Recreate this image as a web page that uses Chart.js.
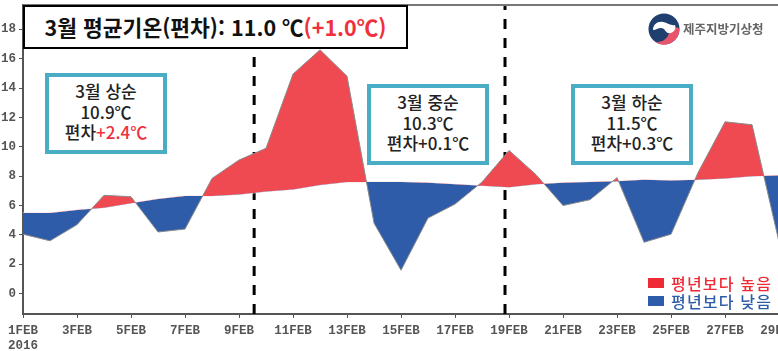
<!DOCTYPE html>
<html lang="ko">
<head>
  <meta charset="UTF-8" />
  <title>3월 평균기온</title>
  <script src="https://cdn.jsdelivr.net/npm/chart.js"></script>
  <style>
    html, body {
      margin: 0;
      padding: 0;
      background: #ffffff;
      overflow: hidden;
    }

    #wrap {
      position: relative;
      width: 778px;
      height: 351px;
      font-family: "Noto Sans CJK KR", sans-serif;
      color: #222222;
      filter: blur(0.4px);
    }

    #chart {
      position: absolute;
      left: 0;
      top: 0;
    }

    .topline {
      position: absolute;
      left: 23px;
      top: 4px;
      width: 755px;
      height: 2px;
      background: #777777;
    }

    .title {
      position: absolute;
      left: 23px;
      top: 5px;
      width: 381px;
      height: 40px;
      border: 2.5px solid #000000;
      background: #ffffff;
      font-size: 21.5px;
      font-weight: 700;
      line-height: 40px;
      text-align: center;
      color: #111111;
      white-space: nowrap;
    }

    .red { color: #f0303c; }

    .note {
      position: absolute;
      box-sizing: border-box;
      width: 122px;
      height: 81px;
      border: 4px solid #4bacc6;
      background: #ffffff;
      font-size: 17px;
      font-weight: 500;
      line-height: 20.5px;
      text-align: center;
      padding-top: 4px;
      white-space: nowrap;
    }

    .logo {
      position: absolute;
      left: 648px;
      top: 13px;
    }

    .org {
      position: absolute;
      left: 683px;
      top: 20px;
      font-size: 12.5px;
      font-weight: 700;
      line-height: 18px;
      color: #666666;
      white-space: nowrap;
    }

    .key {
      position: absolute;
      left: 648px;
      width: 16px;
      height: 10px;
    }

    .keytext {
      position: absolute;
      left: 671px;
      font-size: 16px;
      font-weight: 500;
      line-height: 18px;
      letter-spacing: 1.2px;
      white-space: nowrap;
    }
  </style>
</head>
<body>
  <div id="wrap">
    <canvas id="chart" width="778" height="351"></canvas>
    <div class="topline"></div>
    <div class="title">3월 평균기온(편차): 11.0 ℃<span class="red">(+1.0℃)</span></div>

    <div class="note" style="left:45px;top:73px">3월 상순<br>10.9℃<br>편차<span class="red">+2.4℃</span></div>
    <div class="note" style="left:367px;top:84px">3월 중순<br>10.3℃<br>편차+0.1℃</div>
    <div class="note" style="left:571px;top:84px">3월 하순<br>11.5℃<br>편차+0.3℃</div>

    <svg class="logo" width="32" height="32" viewBox="0 0 32 32">
      <circle cx="16" cy="16" r="15.5" fill="#1f3f6e" />
      <path d="M31.5 16a15.5 15.5 0 0 1-25 12.2C12 31 20 26 21 20c1-5 8-7 10.5-4z" fill="#e9546b" />
      <path d="M5 17c0-6 5-9 10-8 5 1 8 4 12 3 2 5-3 9-7 8-3-1-3-5-7-5-3 0-5 2-8 2z" fill="#ffffff" />
    </svg>
    <div class="org">제주지방기상청</div>

    <div class="key" style="top:278px;background:#ee2a35"></div>
    <div class="keytext" style="top:274px;color:#ee2a35">평년보다 높음</div>
    <div class="key" style="top:296px;background:#2f5ca8"></div>
    <div class="keytext" style="top:292px;color:#2f5ca8">평년보다 낮음</div>
  </div>

  <script>
    const days = ['1FEB', '2FEB', '3FEB', '4FEB', '5FEB', '6FEB', '7FEB', '8FEB', '9FEB', '10FEB',
      '11FEB', '12FEB', '13FEB', '14FEB', '15FEB', '16FEB', '17FEB', '18FEB', '19FEB', '20FEB',
      '21FEB', '22FEB', '23FEB', '24FEB', '25FEB', '26FEB', '27FEB', '28FEB', '29FEB'];
    const observed = [4.05, 3.6, 4.7, 6.7, 6.6, 4.2, 4.4, 7.85, 9.1, 9.9,
      14.95, 16.6, 14.8, 4.8, 1.6, 5.15, 6.1, 7.6, 9.75, 8.1,
      6.0, 6.4, 7.9, 3.5, 4.05, 8.25, 11.7, 11.5, 3.5];
    const normal = [5.5, 5.5, 5.7, 5.85, 6.15, 6.45, 6.65, 6.65, 6.75, 6.95,
      7.1, 7.4, 7.6, 7.6, 7.6, 7.55, 7.45, 7.35, 7.25, 7.45,
      7.55, 7.6, 7.65, 7.75, 7.7, 7.75, 7.85, 8.0, 8.05];
    const yTicks = [0, 2, 4, 6, 8, 10, 12, 14, 16, 18];
    const xTicks = [0, 2, 4, 6, 8, 10, 12, 14, 16, 18, 20, 22, 24, 26, 28];
    // the two period dividers fall between days in the picture
    const dividers = [8.56, 17.85];
    const yMin = -1.38;
    const yMax = 19.65;

    const tickFont = { family: '"Liberation Mono", monospace', size: 12.5, weight: 'bold' };

    function dividerSet(at) {
      return {
        data: [{ x: at, y: yMin }, { x: at, y: yMax }],
        borderColor: '#000000',
        borderWidth: 3,
        borderDash: [10, 9],
        pointRadius: 0,
        fill: false
      };
    }

    new Chart(document.getElementById('chart').getContext('2d'), {
      type: 'line',
      data: {
        datasets: [
          {
            data: observed.map((v, i) => ({ x: i, y: v })),
            borderColor: '#8a8a8a',
            borderWidth: 1,
            pointRadius: 0,
            tension: 0,
            fill: { target: 1, above: '#ef4a52', below: '#2f5ca8' }
          },
          {
            data: normal.map((v, i) => ({ x: i, y: v })),
            borderColor: '#f6dfe2',
            borderWidth: 1,
            pointRadius: 0,
            tension: 0,
            fill: false
          },
          dividerSet(dividers[0]),
          dividerSet(dividers[1])
        ]
      },
      options: {
        responsive: false,
        animation: false,
        layout: { padding: { top: 5, right: 0, left: 0, bottom: 0 } },
        plugins: { legend: { display: false }, tooltip: { enabled: false } },
        scales: {
          x: {
            type: 'linear',
            min: 0,
            max: 27.96,
            afterBuildTicks: axis => { axis.ticks = xTicks.map(v => ({ value: v })); },
            afterFit: axis => {
              axis.height = 37;
              // let the end labels run off the plot instead of shrinking it
              axis.paddingLeft = 0;
              axis.paddingRight = 0;
            },
            border: { color: '#555555', width: 2 },
            grid: { drawOnChartArea: false, tickLength: 4, color: '#555555' },
            ticks: {
              autoSkip: false,
              maxRotation: 0,
              padding: 5,
              color: '#555555',
              font: tickFont,
              callback: v => (v === 0 ? [days[0], '2016'] : days[v])
            }
          },
          y: {
            type: 'linear',
            min: yMin,
            max: yMax,
            afterBuildTicks: axis => { axis.ticks = yTicks.map(v => ({ value: v })); },
            afterFit: axis => {
              axis.width = 23;
              axis.paddingTop = 0;
              axis.paddingBottom = 0;
            },
            border: { color: '#555555', width: 2 },
            grid: { drawOnChartArea: false, tickLength: 4, color: '#555555' },
            ticks: {
              padding: 3,
              color: '#555555',
              font: tickFont
            }
          }
        }
      }
    });
  </script>
</body>
</html>
